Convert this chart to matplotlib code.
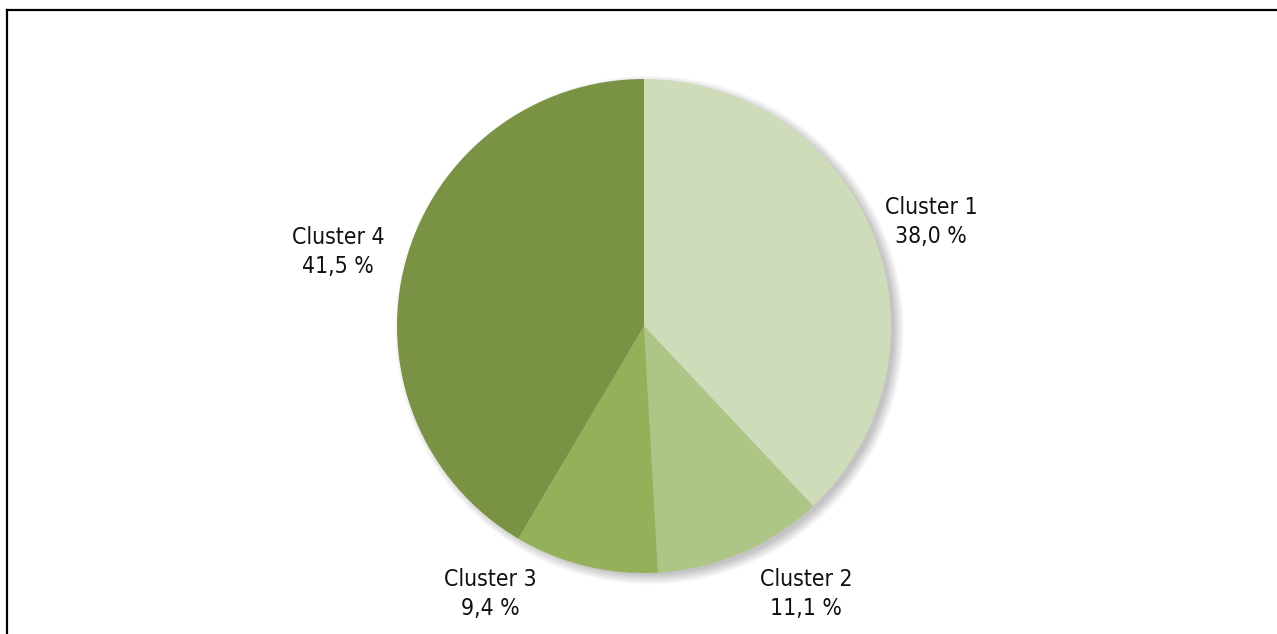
import numpy as np
import matplotlib.pyplot as plt
from matplotlib.patches import Circle
from matplotlib.lines import Line2D

# Répartition des observations par cluster (%)
clusters = ['Cluster 1', 'Cluster 2', 'Cluster 3', 'Cluster 4']
parts = [38.0, 11.1, 9.4, 41.5]
couleurs = ['#cfdcb9', '#adc686', '#93b158', '#7a9244']

plt.rcParams['font.family'] = ['DejaVu Sans']
plt.rcParams['font.stretch'] = 'condensed'

fig = plt.figure(figsize=(12.77, 6.34), dpi=100)
ax = fig.add_axes([0, 0, 1, 1])

# ombre douce sous le camembert, décalée vers le bas à droite
for r in np.linspace(1.03, 0.99, 12):
    ax.add_patch(Circle((0.022, -0.016), r, facecolor='black', alpha=0.02,
                        edgecolor='none', zorder=1))

wedges, textes = ax.pie(parts, colors=couleurs, startangle=90, counterclock=False,
                        radius=1.0, labels=[f'{c}\n{p:.1f} %'.replace('.', ',')
                                             for c, p in zip(clusters, parts)],
                        textprops={'fontsize': 16.5, 'ha': 'center', 'va': 'center',
                                   'linespacing': 1.3, 'fontstretch': 'condensed',
                                   'color': '#111111'},
                        wedgeprops={'linewidth': 0, 'zorder': 2})

# position des étiquettes
pos = [(1.162, 0.421), (0.656, -1.085), (-0.623, -1.085), (-1.239, 0.300)]
for t, p in zip(textes, pos):
    t.set_position(p)
    t.set_horizontalalignment('center')

ax.set_aspect('auto')
ax.set_xlim(-644 / 247, (1277 - 644) / 247)
ax.set_ylim(-(634 - 326) / 247, 326 / 247)
ax.axis('off')

# cadre (haut et gauche)
fig.add_artist(Line2D([7 / 1277, 1], [1 - 10 / 634, 1 - 10 / 634], color='black', lw=1.6))
fig.add_artist(Line2D([7 / 1277, 7 / 1277], [0, 1 - 10 / 634], color='black', lw=1.6))

fig.savefig('out.png', dpi=100)
